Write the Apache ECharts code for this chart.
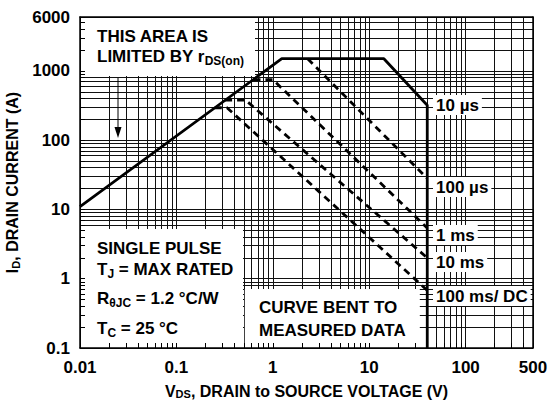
<!DOCTYPE html>
<html><head><meta charset="utf-8">
<script src="https://cdn.jsdelivr.net/npm/echarts@6/dist/echarts.min.js"></script>
<style>html,body{margin:0;padding:0;background:#fff}#c{width:555px;height:403px}</style>
</head><body><div id="c"></div>
<script>
// tick labels
const xTickLabels = [0.01, 0.1, 1, 10, 100, 500];
const yTickLabels = [0.1, 1, 10, 100, 1000, 6000];
// grid / minor tick values
const xGridValues = [0.01,0.02,0.03,0.04,0.05,0.06,0.07,0.08,0.09,
  0.1,0.2,0.3,0.4,0.5,0.6,0.7,0.8,0.9,1,2,3,4,5,6,7,8,9,
  10,20,30,40,50,60,70,80,90,100,200,300,400,500];
const yGridValues = [0.1,0.2,0.3,0.4,0.5,0.6,0.7,0.8,0.9,1,2,3,4,5,6,7,8,9,
  10,20,30,40,50,60,70,80,90,100,200,300,400,500,600,700,800,900,
  1000,2000,3000,4000,5000,6000];
// SOA boundary (10 us, solid)
const limitV = [0.01, 1.24, 14.2, 40, 40];
const limitI = [11, 1500, 1500, 320, 0.1];
// dashed curves
const us100V = [2.3, 40];           const us100I = [1500, 28];
const ms1V = [0.63, 1.0, 40];       const ms1I = [750, 750, 5.4];
const ms10V = [0.32, 0.52, 40];     const ms10I = [380, 380, 2.0];
const ms100V = [0.25, 0.335, 40];   const ms100I = [294, 294, 0.68];
const curveLabels = ['10 \u00b5s', '100 \u00b5s', '1 ms', '10 ms', '100 ms/ DC'];

const FONT = '"Liberation Sans", Arial, sans-serif';
const pairs = (xs, ys) => xs.map((v, i) => [v, ys[i]]);
const fmt = v => String(Number(Number(v).toPrecision(3)));
const subRich = {
  sub: {fontSize: 12, fontWeight: 'bold', fontFamily: FONT, color: '#000', padding: [8, 0, 0, 0]}
};

const chart = echarts.init(document.getElementById('c'), null, {renderer: 'svg'});

const logX = {type: 'log', logBase: 10, min: 0.01, max: 500};
const logY = {type: 'log', logBase: 10, min: 0.1, max: 6000};

function gridAxis(base, pos, vals) {
  return Object.assign({}, base, {
    position: pos, z: 0,
    axisLine: {show: false}, axisTick: {show: false, customValues: vals},
    axisLabel: {show: false},
    splitLine: {show: true, lineStyle: {color: '#111', width: 1}}
  });
}
function borderAxis(base, pos) {
  return Object.assign({}, base, {
    position: pos, z: 10,
    axisLine: {show: true, lineStyle: {color: '#000', width: 1.5}},
    axisTick: {show: false}, axisLabel: {show: false}, splitLine: {show: false}
  });
}

const labelText = (txt, x, y) => ({
  type: 'text', z: 30, left: x, top: y,
  style: {text: txt, font: 'bold 17px ' + FONT, fill: '#000',
    backgroundColor: '#fff', padding: [2, 3, 1, 3], verticalAlign: 'middle', rich: subRich}
});
const plainText = (txt, x, y) => ({
  type: 'text', z: 30, x: x, y: y,
  style: {text: txt, font: 'bold 17px ' + FONT, fill: '#000', verticalAlign: 'middle', rich: {
    sub: {fontSize: 12, fontWeight: 'bold', fontFamily: FONT, padding: [9, 0, 0, 0]}
  }}
});

chart.setOption({
  animation: false,
  grid: {left: 80, right: 22, top: 17, bottom: 55, containLabel: false, outerBoundsMode: 'none'},
  xAxis: [
    gridAxis(logX, 'bottom', xGridValues),
    Object.assign({}, logX, {
      position: 'bottom', z: 10,
      axisLine: {show: true, lineStyle: {color: '#000', width: 1.5}},
      axisTick: {show: true, inside: true, length: 5, customValues: xGridValues, lineStyle: {color: '#000', width: 1}},
      axisLabel: {customValues: xTickLabels, formatter: fmt, color: '#000', fontSize: 17, fontWeight: 'bold', fontFamily: FONT, margin: 11},
      splitLine: {show: false},
      name: 'V{sub|DS}, DRAIN to SOURCE VOLTAGE (V)', nameLocation: 'middle', nameGap: 35,
      nameTextStyle: {color: '#000', fontSize: 16, fontWeight: 'bold', fontFamily: FONT, lineHeight: 16, rich: {
        sub: {fontSize: 11, fontWeight: 'bold', fontFamily: FONT, lineHeight: 11, padding: [5, 0, 0, 0]}}}
    }),
    borderAxis(logX, 'top')
  ],
  yAxis: [
    gridAxis(logY, 'left', yGridValues),
    Object.assign({}, logY, {
      position: 'left', z: 10,
      axisLine: {show: true, lineStyle: {color: '#000', width: 1.5}},
      axisTick: {show: true, inside: true, length: 5, customValues: yGridValues, lineStyle: {color: '#000', width: 1}},
      axisLabel: {customValues: yTickLabels, formatter: fmt, color: '#000', fontSize: 17, fontWeight: 'bold', fontFamily: FONT, margin: 10},
      splitLine: {show: false},
      name: 'I{sub|D}, DRAIN CURRENT (A)', nameLocation: 'middle', nameGap: 38,
      nameTextStyle: {color: '#000', fontSize: 16, fontWeight: 'bold', fontFamily: FONT, rich: {
        sub: {fontSize: 11, fontWeight: 'bold', fontFamily: FONT, padding: [7, 0, 0, 0]}}}
    }),
    borderAxis(logY, 'right')
  ],
  graphic: [
    {type: 'rect', z: 5, shape: {x: 81, y: 18, width: 174, height: 58}, style: {fill: '#fff'}},
    {type: 'rect', z: 5, shape: {x: 81, y: 229, width: 162, height: 118}, style: {fill: '#fff'}},
    {type: 'rect', z: 5, shape: {x: 244.8, y: 289, width: 175, height: 58}, style: {fill: '#fff'}},
    plainText('THIS AREA IS', 97, 36),
    plainText('LIMITED BY r{sub|DS(on)}', 97, 56),
    plainText('SINGLE PULSE', 97, 248),
    plainText('T{sub|J} = MAX RATED', 97, 269),
    plainText('R{sub|\u03b8JC} = 1.2 \u00b0C/W', 97, 298),
    plainText('T{sub|C} = 25 \u00b0C', 97, 328),
    plainText('CURVE BENT TO', 259, 307),
    plainText('MEASURED DATA', 259, 330),
    labelText(curveLabels[0], 433, 95),
    labelText(curveLabels[1], 433, 177),
    labelText(curveLabels[2], 433, 225),
    labelText(curveLabels[3], 433, 252),
    labelText(curveLabels[4], 433, 286),
    {type: 'line', z: 30, shape: {x1: 118, y1: 78, x2: 118, y2: 130}, style: {stroke: '#000', lineWidth: 1}},
    {type: 'polygon', z: 30, shape: {points: [[114.5, 127], [121.5, 127], [118, 138]]}, style: {fill: '#000'}}
  ],
  series: [
    {type: 'line', xAxisIndex: 1, yAxisIndex: 1, z: 20, symbol: 'none', data: pairs(limitV, limitI),
      lineStyle: {color: '#000', width: 2.8}},
    {type: 'line', xAxisIndex: 1, yAxisIndex: 1, z: 20, symbol: 'none', data: pairs(us100V, us100I),
      lineStyle: {color: '#000', width: 2.8, type: [7, 5]}},
    {type: 'line', xAxisIndex: 1, yAxisIndex: 1, z: 20, symbol: 'none', data: pairs(ms1V, ms1I),
      lineStyle: {color: '#000', width: 2.8, type: [7, 5]}},
    {type: 'line', xAxisIndex: 1, yAxisIndex: 1, z: 20, symbol: 'none', data: pairs(ms10V, ms10I),
      lineStyle: {color: '#000', width: 2.8, type: [7, 5]}},
    {type: 'line', xAxisIndex: 1, yAxisIndex: 1, z: 20, symbol: 'none', data: pairs(ms100V, ms100I),
      lineStyle: {color: '#000', width: 2.8, type: [7, 5]}}
  ]
});
</script></body></html>
